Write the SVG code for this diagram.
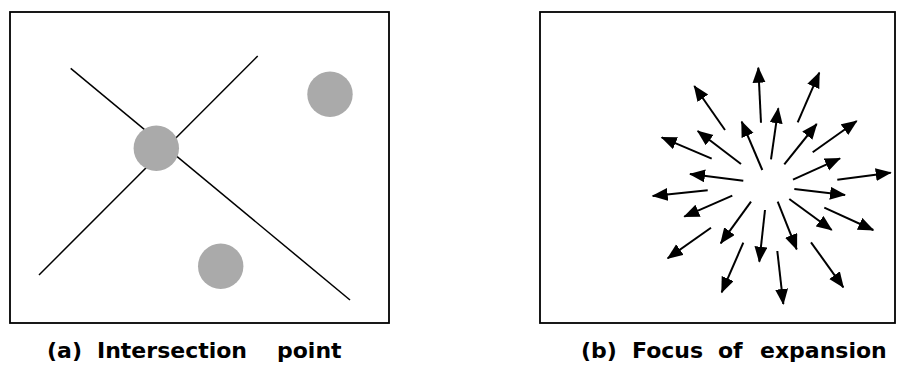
<svg xmlns="http://www.w3.org/2000/svg" width="906" height="371" viewBox="0 0 906 371">
<style>
.frame{fill:#fff;stroke:#000;stroke-width:1.8}
.ln{stroke:#000;stroke-width:1.5;fill:none}
.dot{fill:#aaaaaa}
.ar{stroke:#000;stroke-width:2;fill:none;marker-end:url(#ah)}
.cap{font-family:"DejaVu Sans",Verdana,sans-serif;font-size:22px;font-weight:bold;fill:#000}
</style>
<defs>
<marker id="ah" markerUnits="userSpaceOnUse" markerWidth="18" markerHeight="14" refX="15" refY="6.5" orient="auto">
<path d="M0,0 L16,6.5 L0,13 z" fill="#000"/>
</marker>
</defs>
<rect width="906" height="371" fill="#fff"/>
<g id="panel-a">
<rect class="frame" x="10" y="12" width="379" height="311"/>
<line class="ln" x1="70.7" y1="68.3" x2="350" y2="300"/>
<line class="ln" x1="39" y1="275" x2="257.7" y2="56"/>
<circle class="dot" cx="156.3" cy="148.3" r="22.7"/>
<circle class="dot" cx="330" cy="94.3" r="22.7"/>
<circle class="dot" cx="220.7" cy="266.3" r="22.7"/>
<text class="cap" y="358"><tspan x="47">(a)</tspan> <tspan x="97">Intersection</tspan> <tspan x="277">point</tspan></text>
</g>
<g id="panel-b">
<rect class="frame" x="540" y="12" width="355" height="311"/>
<text class="cap" y="358"><tspan x="581">(b)</tspan> <tspan x="632">Focus</tspan> <tspan x="718">of</tspan> <tspan x="760">expansion</tspan></text>
</g>
<g id="connectors">
<line class="ar" x1="761" y1="122.7" x2="758.3" y2="67.7"/>
<line class="ar" x1="797.7" y1="122.3" x2="819.3" y2="72.7"/>
<line class="ar" x1="725" y1="130" x2="694.3" y2="86"/>
<line class="ar" x1="771" y1="159.3" x2="778.3" y2="108.3"/>
<line class="ar" x1="762.3" y1="170" x2="741.7" y2="121.7"/>
<line class="ar" x1="784.3" y1="164.3" x2="816.7" y2="124"/>
<line class="ar" x1="812.7" y1="152.3" x2="856.7" y2="121"/>
<line class="ar" x1="711.7" y1="158.7" x2="661.7" y2="137.3"/>
<line class="ar" x1="741" y1="164" x2="697.7" y2="131"/>
<line class="ar" x1="793" y1="179.7" x2="840" y2="158.3"/>
<line class="ar" x1="837.3" y1="179.7" x2="890.7" y2="172.7"/>
<line class="ar" x1="743.3" y1="180.7" x2="690" y2="174"/>
<line class="ar" x1="707.7" y1="190.3" x2="652.7" y2="196"/>
<line class="ar" x1="794.3" y1="189" x2="845" y2="195"/>
<line class="ar" x1="732.3" y1="195.7" x2="684.3" y2="216.7"/>
<line class="ar" x1="789.3" y1="199" x2="831.7" y2="230"/>
<line class="ar" x1="824.3" y1="207.7" x2="873.3" y2="230"/>
<line class="ar" x1="751" y1="201.7" x2="720.7" y2="243.3"/>
<line class="ar" x1="711" y1="227.7" x2="667.7" y2="258.3"/>
<line class="ar" x1="765" y1="210" x2="759.3" y2="261.7"/>
<line class="ar" x1="777.7" y1="201.7" x2="796.7" y2="249.3"/>
<line class="ar" x1="811" y1="242.3" x2="843.3" y2="287.3"/>
<line class="ar" x1="743.3" y1="242.7" x2="721.7" y2="292.3"/>
<line class="ar" x1="777.3" y1="251" x2="783.3" y2="304"/>
</g>
</svg>
